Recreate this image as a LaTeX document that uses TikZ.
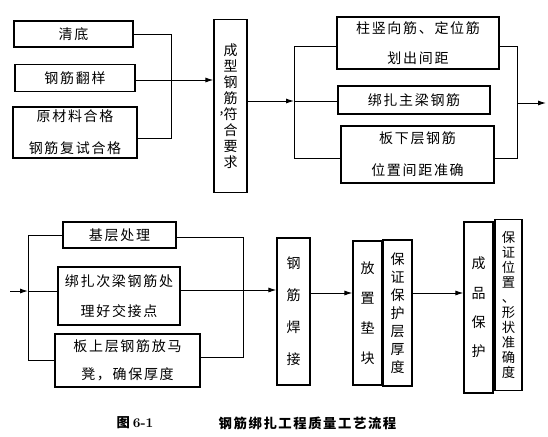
\documentclass[tikz,border=0pt]{standalone}
\usepackage{fontspec}
\usepackage{tikz}
\usetikzlibrary{arrows.meta, positioning, calc}
\newfontfamily\cjk{Noto Sans CJK SC}
\newfontfamily\cjks[LetterSpace=12]{Noto Sans CJK SC}

\begin{document}
\begin{tikzpicture}[
    x=0.75pt, y=-0.75pt,
    wh/.style 2 args={minimum width=#1*0.75pt, minimum height=#2*0.75pt},
    box/.style={draw, line width=0.9pt, inner sep=0pt, align=center, font=\cjks\fontsize{10.5}{23}\selectfont},
    vbox/.style={draw, line width=0.9pt, inner sep=0pt, align=center, font=\cjk\fontsize{10.5}{#1}\selectfont},
    line/.style={line width=0.75pt},
    arrow/.style={line, -{Latex[length=6pt, width=3.8pt]}}
]
    \useasboundingbox (0,0) rectangle (548,436);

    \node[box, wh={119}{26}] (qingdi) at (73.5,34) {清底};
    \node[box, wh={120}{27}] (fanyang) at (75,78) {钢筋翻样};
    \node[box, wh={124}{51}, font=\cjks\fontsize{10.5}{24}\selectfont] (yuancai) at (75,132.5) {原材料合格\\钢筋复试合格};
    \node[vbox=12pt, wh={33}{173}] (chengxing) at (230.5,106) {成\\型\\钢\\筋\\\llap{\raisebox{.7ex}{,}}符\\合\\要\\求};
    \node[box, wh={162}{52}, font=\cjks\fontsize{10.5}{22.5}\selectfont] (zhushu) at (418,43) {柱竖向筋、定位筋\\划出间距};
    \node[box, wh={152}{28}] (bangzhu) at (414,100) {绑扎主梁钢筋};
    \node[box, wh={153}{57}, font=\cjks\fontsize{10.5}{24}\selectfont] (banxia) at (417.5,154.5) {板下层钢筋\\位置间距准确};

    \node[box, wh={113}{26}] (jiceng) at (119.5,235) {基层处理};
    \node[box, wh={122}{58}] (cibeam) at (119,296) {绑扎次梁钢筋处\\理好交接点};
    \node[box, wh={145}{53}, font=\cjks\fontsize{10.5}{21}\selectfont] (banshang) at (127.5,360.5) {板上层钢筋放马\\凳，确保厚度};
    \node[vbox=24pt, wh={33}{147}] (hanjie) at (293.5,311.5) {钢\\筋\\焊\\接};
    \node[vbox=22.5pt, wh={29}{144}] (fangzhi) at (367.5,313) {放\\置\\垫\\块};
    \node[vbox=13.5pt, wh={29}{146}] (baohu) at (397.5,313) {保\\证\\保\\护\\层\\厚\\度};
    \node[vbox=22pt, wh={29}{171}] (chengpin) at (478.5,307.5) {成\\品\\保\\护};
    \node[vbox=11.25pt, wh={27}{171}, font=\cjk\fontsize{10}{11.25}\selectfont] (weizhi) at (508.5,305) {保\\证\\位\\置\\、\\形\\状\\准\\确\\度};

    \node[font=\cjk\bfseries\fontsize{10}{12}\selectfont] (fig) at (135,423) {图 {\rmfamily 6-1}};
    \node[font=\cjks\bfseries\fontsize{10}{12}\selectfont] (title) at (307.5,423) {钢筋绑扎工程质量工艺流程};

    \coordinate (ja) at (171,34);
    \coordinate (jm) at (171,80);
    \coordinate (jb) at (171,138);
    \coordinate (jc) at (294,46);
    \coordinate (je) at (294,101);
    \coordinate (jd) at (294,158);
    \coordinate (jf) at (517,46);
    \coordinate (jh) at (517,103);
    \coordinate (jg) at (517,158);
    \coordinate (out) at (546,103);

    \draw[line] (qingdi.east) -- (ja) -- (jb) -- (yuancai.east |- jb);
    \draw[arrow] (fanyang.east |- jm) -- (chengxing.west |- jm);
    \draw[arrow] (chengxing.east |- je) -- (je);
    \draw[line] (je) -- (bangzhu.west |- je);
    \draw[line] (zhushu.west |- jc) -- (jc) -- (jd) -- (banxia.west |- jd);
    \draw[line] (zhushu.east |- jf) -- (jf) -- (jg) -- (banxia.east |- jg);
    \draw[arrow] (jh) -- (out);

    \coordinate (in) at (10,291);
    \coordinate (ka) at (28,235);
    \coordinate (km) at (28,291);
    \coordinate (kb) at (28,360);
    \coordinate (kc) at (243,237);
    \coordinate (ke) at (243,290);
    \coordinate (kd) at (243,357);
    \coordinate (kf) at (330,293);

    \draw[arrow] (in) -- (km);
    \draw[line] (km) -- (cibeam.west |- km);
    \draw[line] (jiceng.west |- ka) -- (ka) -- (kb) -- (banshang.west |- kb);
    \draw[line] (jiceng.east |- kc) -- (kc) -- (kd) -- (banshang.east |- kd);
    \draw[arrow] (cibeam.east |- ke) -- (hanjie.west |- ke);
    \draw[arrow] (hanjie.east |- kf) -- (fangzhi.west |- kf);
    \draw[arrow] (baohu.east |- kf) -- (chengpin.west |- kf);
\end{tikzpicture}
\end{document}
